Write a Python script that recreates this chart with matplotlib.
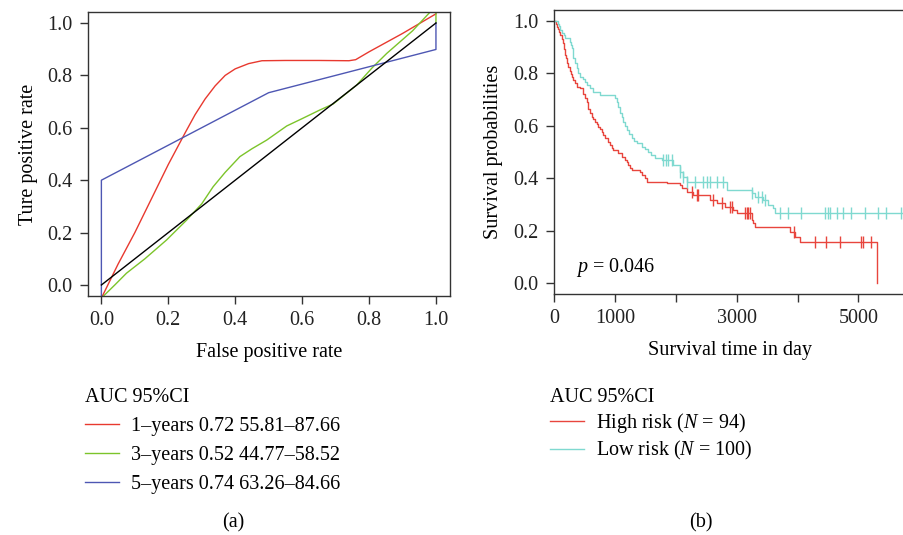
import numpy as np
import matplotlib
matplotlib.use("Agg")
import matplotlib.pyplot as plt

plt.rcParams['font.family'] = ['Liberation Serif', 'DejaVu Serif']
plt.rcParams['mathtext.fontset'] = 'custom'
plt.rcParams['mathtext.rm'] = 'Liberation Serif'
plt.rcParams['mathtext.it'] = 'Liberation Serif:italic'

# ---- ROC curves (panel a) ----
roc_1y_fpr = [0.0, 0.05, 0.10, 0.15, 0.20, 0.25, 0.28, 0.31, 0.34, 0.37, 0.40, 0.44, 0.48, 0.55, 0.65, 0.74, 0.76, 0.80, 0.90, 1.0]
roc_1y_tpr = [-0.05, 0.08, 0.20, 0.33, 0.46, 0.58, 0.65, 0.71, 0.76, 0.80, 0.825, 0.845, 0.856, 0.857, 0.857, 0.856, 0.86, 0.89, 0.96, 1.035]

roc_3y_fpr = [0.0, 0.04, 0.075, 0.13, 0.195, 0.255, 0.30, 0.334, 0.37, 0.414, 0.45, 0.494, 0.554, 0.60, 0.653, 0.693, 0.763, 0.81, 0.853, 0.93, 0.99, 1.0, 1.0]
roc_3y_tpr = [-0.05, 0.0, 0.045, 0.10, 0.172, 0.248, 0.31, 0.375, 0.43, 0.49, 0.52, 0.553, 0.607, 0.635, 0.668, 0.691, 0.763, 0.83, 0.884, 0.97, 1.052, 1.04, 1.0]

roc_5y_fpr = [0.0, 0.0, 0.5, 1.0, 1.0]
roc_5y_tpr = [-0.05, 0.40, 0.734, 0.899, 1.0]

diag = [0.0, 1.0]

roc_labels = ["1\u2013years 0.72 55.81\u201387.66",
              "3\u2013years 0.52 44.77\u201358.52",
              "5\u2013years 0.74 63.26\u201384.66"]

# ---- Kaplan-Meier curves (panel b) ----
high_t = [0, 25, 44, 60, 87, 105, 126, 145, 164, 180, 197, 215, 235, 255, 274, 295, 317, 345, 372, 420,
          481, 509, 536, 563, 590, 618, 645, 673, 700, 727, 755, 782, 810, 837, 880, 919, 950, 973,
          1055, 1110, 1165, 1195, 1219, 1250, 1275, 1411, 1450, 1493, 1525, 1860, 2068, 2100, 2177, 2286,
          2560, 2669, 2806, 2943, 3000, 3250, 3270, 3298, 3873, 3954, 4037, 5310]
high_s = [1.0, 0.99, 0.979, 0.968, 0.957, 0.945, 0.932, 0.915, 0.894, 0.872, 0.858, 0.84, 0.823, 0.81, 0.796, 0.785, 0.774, 0.762, 0.749, 0.743,
          0.72, 0.705, 0.69, 0.665, 0.65, 0.635, 0.625, 0.616, 0.606, 0.597, 0.588, 0.578, 0.565, 0.552, 0.54, 0.527, 0.517, 0.508,
          0.495, 0.482, 0.469, 0.46, 0.45, 0.44, 0.431, 0.425, 0.412, 0.40, 0.387, 0.38, 0.374, 0.361, 0.348, 0.336,
          0.317, 0.304, 0.291, 0.279, 0.266, 0.24, 0.228, 0.215, 0.196, 0.177, 0.158, 0.0]
high_cens = [2259, 2341, 2368, 2614, 2751, 2888, 2916, 3134, 3162, 3189, 3216, 3938, 4283, 4474, 4693, 5049, 5075, 5213]

low_t = [0, 70, 90, 104, 130, 160, 186, 263, 280, 290, 305, 317, 340, 372, 400, 427, 470, 509, 536, 591, 645, 755,
         1001, 1028, 1055, 1083, 1110, 1137, 1165, 1192, 1230, 1275, 1320, 1357, 1439, 1500, 1548, 1600, 1657, 1767,
         1958, 2068, 2122, 2177, 2840, 3244, 3300, 3435, 3517, 3599, 3627]
low_s = [1.0, 0.99, 0.98, 0.966, 0.955, 0.945, 0.934, 0.92, 0.91, 0.896, 0.878, 0.858, 0.84, 0.82, 0.80, 0.787, 0.778, 0.768, 0.755, 0.743, 0.73, 0.718,
         0.705, 0.692, 0.67, 0.648, 0.632, 0.616, 0.60, 0.584, 0.568, 0.552, 0.542, 0.533, 0.52, 0.51, 0.501, 0.488, 0.476, 0.469,
         0.45, 0.425, 0.406, 0.384, 0.355, 0.342, 0.33, 0.317, 0.298, 0.285, 0.266]
low_cens = [1794, 1838, 1876, 1931, 2068, 2122, 2177, 2314, 2450, 2505, 2560, 2669, 2779, 3244, 3353, 3408, 3462, 3708, 3845, 4064,
            4447, 4491, 4529, 4639, 4748, 4885, 5103, 5321, 5458, 5704]

km_labels = ["High risk ($N$ = 94)", "Low risk ($N$ = 100)"]

red_roc = "#E8392F"
green_roc = "#7CC42A"
blue_roc = "#4E57B3"
red_km = "#E8453D"
cyan_km = "#7FD9D0"
dark = "#333333"

FS = 14.5


def step_value(times, surv, t):
    idx = np.searchsorted(times, t, side="right") - 1
    return surv[max(idx, 0)]


fig = plt.figure(figsize=(9.04, 5.35), dpi=100)

# ---------- panel (a) ----------
ax1 = fig.add_axes([88 / 904, 1 - 296 / 535, (450 - 88) / 904, (296 - 12) / 535])
l1, = ax1.plot(roc_1y_fpr, roc_1y_tpr, color=red_roc, lw=1.0)
l3, = ax1.plot(roc_3y_fpr, roc_3y_tpr, color=green_roc, lw=1.0)
l5, = ax1.plot(roc_5y_fpr, roc_5y_tpr, color=blue_roc, lw=1.0)
ax1.plot(diag, diag, color="black", lw=1.0)
ax1.set_xlim(-0.04, 1.042)
ax1.set_ylim(-0.042, 1.042)
ax1.set_xticks(np.arange(0, 1.01, 0.2))
ax1.set_yticks(np.arange(0, 1.01, 0.2))
ax1.set_xticklabels(["0.0", "0.2", "0.4", "0.6", "0.8", "1.0"])
ax1.set_yticklabels(["0.0", "0.2", "0.4", "0.6", "0.8", "1.0"])
ax1.set_xlabel("False positive rate", fontsize=FS, labelpad=9)
ax1.set_ylabel("Ture positive rate", fontsize=FS, labelpad=7)

# ---------- panel (b) ----------
ax2 = fig.add_axes([553.7 / 904, 1 - 294 / 535, (906 - 553.7) / 904, (294 - 10) / 535])
h1, = ax2.plot(high_t, high_s, drawstyle="steps-post", color=red_km, lw=1.0)
h2, = ax2.plot(low_t + [5780], low_s + [low_s[-1]], drawstyle="steps-post", color=cyan_km, lw=1.0)
ax2.plot(high_cens, [step_value(high_t, high_s, t) for t in high_cens], ls="none",
         marker="|", ms=9, mew=1.0, color=red_km)
ax2.plot(low_cens, [step_value(low_t, low_s, t) for t in low_cens], ls="none",
         marker="|", ms=9, mew=1.0, color=cyan_km)
ax2.set_xlim(-5, 5780)
ax2.set_ylim(-0.042, 1.042)
ax2.set_xticks([0, 1000, 2000, 3000, 4000, 5000])
ax2.set_xticklabels(["0", "1000", "", "3000", "", "5000"])
ax2.set_yticks(np.arange(0, 1.01, 0.2))
ax2.set_yticklabels(["0.0", "0.2", "0.4", "0.6", "0.8", "1.0"])
ax2.set_xlabel("Survival time in day", fontsize=FS, labelpad=9)
ax2.set_ylabel("Survival probabilities", fontsize=FS, labelpad=7)
ax2.text(361, 0.06, "$p$ = 0.046", fontsize=FS, va="center", ha="left")
ax2.spines["right"].set_visible(False)

for ax in (ax1, ax2):
    for s in ax.spines.values():
        s.set_color(dark)
        s.set_linewidth(1.0)
    ax.tick_params(direction="out", length=6, width=1.0, color=dark,
                   labelsize=FS, labelcolor="#222222", pad=5)

# legends below each panel
leg_kw = dict(loc="upper left", frameon=False, fontsize=FS, title_fontsize=FS,
              alignment="left", handlelength=1.7, handletextpad=0.6,
              borderpad=0, borderaxespad=0)
fig.legend([l1, l3, l5], roc_labels, title="AUC 95%CI", labelspacing=0.5,
           bbox_to_anchor=(85 / 904, 1 - 388 / 535), **leg_kw)
fig.legend([h1, h2], km_labels, title="AUC 95%CI", labelspacing=0.2,
           bbox_to_anchor=(550 / 904, 1 - 388 / 535), **leg_kw)

fig.text(233 / 904, 1 - 523 / 535, "(a)", fontsize=FS, ha="center", va="center")
fig.text(701 / 904, 1 - 523 / 535, "(b)", fontsize=FS, ha="center", va="center")

fig.savefig("out.png", dpi=100)
